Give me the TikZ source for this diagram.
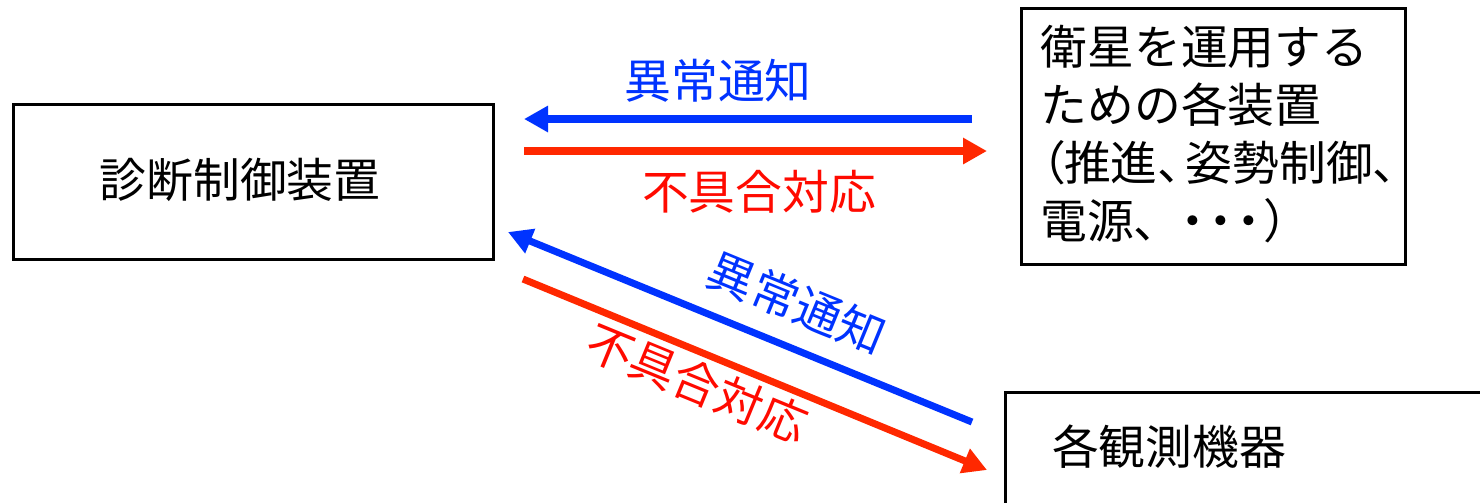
\documentclass[tikz,border=0pt]{standalone}
\usepackage{fontspec}
\setmainfont{Noto Sans CJK JP}
\newfontfamily\propjp[RawFeature=+palt]{Noto Sans CJK JP}
\usetikzlibrary{arrows.meta}
\definecolor{ablue}{RGB}{0,51,255}
\definecolor{ared}{RGB}{255,40,0}
\definecolor{tred}{RGB}{255,10,0}
\begin{document}
\begin{tikzpicture}[x=0.01cm,y=-0.01cm,
  box/.style={draw=black, line width=0.75pt, inner sep=0pt},
  lbl/.style={inner sep=0pt, font=\fontsize{13.3pt}{16.5pt}\selectfont},
  arr/.style={line width=2pt, -{Triangle[length=0.24cm,width=0.25cm]}},
]
\useasboundingbox (0,0) rectangle (1480,502);
\clip (0,0) rectangle (1480,502);
\fill[white] (0,0) rectangle (1480,502);

% boxes
\node[box, anchor=north west, minimum width=4.8cm, minimum height=1.55cm] (diag) at (12,103) {};
\node[lbl] (diagtext) at (240,180) {診断制御装置};

\node[box, anchor=north west, minimum width=3.84cm, minimum height=2.56cm] (sat) at (1020,7) {};
\node[lbl, anchor=west, align=left] (sattext) at (1040,134)
  {衛星を運用する\\ための各装置\\{\propjp （推進、\hspace{0.1em}姿勢制御、}\\{\propjp 電源、\hspace{0.5em}・\hspace{0.1em}・\hspace{0.1em}・\hspace{0.1em}）}};

\node[box, anchor=north west, minimum width=5cm, minimum height=1.6cm] (obs) at (1004,391) {};
\node[lbl] (obstext) at (1169,447) {各観測機器};

% arrow endpoints
\coordinate (b1s) at (972,119);
\coordinate (b1e) at (524,119);
\coordinate (r1s) at (524,151);
\coordinate (r1e) at (987,151);
\coordinate (b2s) at (972,422);
\coordinate (b2e) at (508,232);
\coordinate (r2s) at (523,279);
\coordinate (r2e) at (987,470);

\draw[arr, ablue] (b1s) -- (b1e);
\draw[arr, ared] (r1s) -- (r1e);
\draw[arr, ablue] (b2s) -- (b2e);
\draw[arr, ared] (r2s) -- (r2e);

% labels
\node[lbl, text=ablue] (l1) at (718,81) {異常通知};
\node[lbl, text=tred] (l2) at (759,192) {不具合対応};
\node[lbl, text=ablue, rotate=-22.3] (l3) at (797,303) {異常通知};
\node[lbl, text=tred, rotate=-22.3] (l4) at (697,383) {不具合対応};
\end{tikzpicture}
\end{document}
